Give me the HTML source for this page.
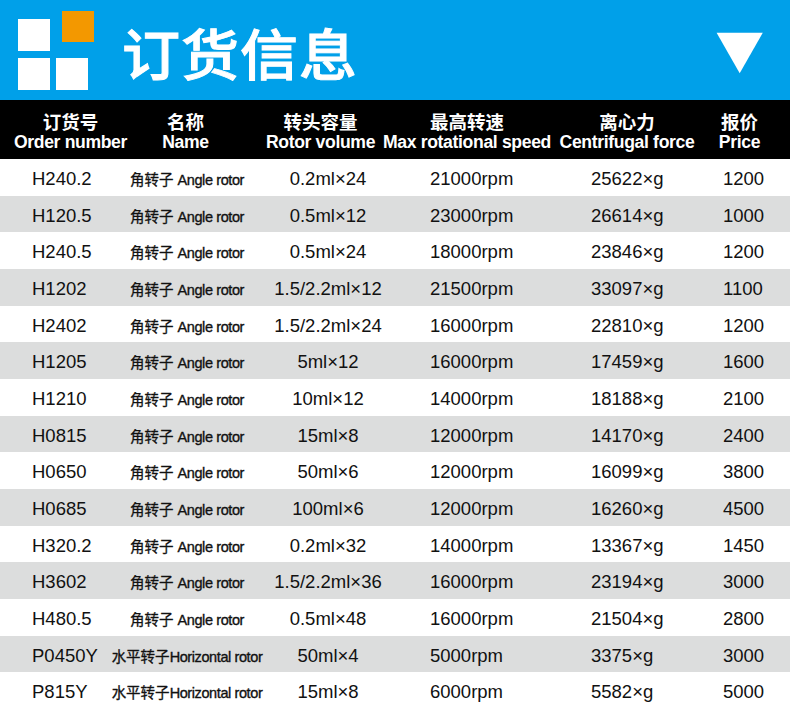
<!DOCTYPE html>
<html lang="zh-CN">
<head>
<meta charset="utf-8">
<title>订货信息</title>
<style>
html,body{margin:0;padding:0;}
body{width:790px;height:709px;position:relative;overflow:hidden;background:#fff;font-family:"Liberation Sans","Noto Sans CJK SC",sans-serif;}
.top{position:absolute;left:0;top:0;width:790px;height:100px;background:#00a0e9;}
.sq{position:absolute;background:#fff;}
.sq.o{background:#f39800;}
.title{position:absolute;left:122px;top:8.5px;font-family:"Noto Sans CJK SC",sans-serif;font-weight:500;-webkit-text-stroke:1px #fff;font-size:58px;line-height:84px;color:#fff;letter-spacing:1px;white-space:nowrap;transform:scaleY(0.945);transform-origin:0 42px;}
.tri{position:absolute;left:0;top:0;}
.head{position:absolute;left:0;top:100px;width:790px;height:59px;background:#000;color:#fff;font-weight:700;}
.hc{position:absolute;top:0;text-align:center;white-space:nowrap;}
.hc .zh{display:block;font-family:"Noto Sans CJK SC",sans-serif;font-size:18.5px;line-height:20px;height:20px;margin-top:11px;}
.hc .en{display:block;font-family:"Liberation Sans",sans-serif;font-size:17.6px;line-height:20px;letter-spacing:-0.35px;margin-top:1px;}
.row{position:absolute;left:0;width:790px;height:37px;color:#111;font-size:18.5px;background:#fff;}
.row.g{background:#dcdddd;}
.row>span{position:absolute;top:1px;line-height:37px;white-space:nowrap;}
.c1{left:32px;}
.c2{left:87px;width:200px;text-align:center;font-size:14.5px;top:3px !important;line-height:36px !important;}
.c2 .z{font-family:"Noto Sans CJK SC",sans-serif;font-weight:400;line-height:1px;-webkit-text-stroke:0.3px #111;}
.c2 .a{letter-spacing:-0.4px;-webkit-text-stroke:0.35px #111;}
.c3{left:248px;width:160px;text-align:center;}
.c4{left:430px;}
.c5{left:591px;}
.c6{left:723px;}
</style>
</head>
<body>
<div class="top">
  <div class="sq" style="left:18px;top:19px;width:32px;height:32px;"></div>
  <div class="sq o" style="left:62px;top:11px;width:32px;height:31px;"></div>
  <div class="sq" style="left:18px;top:58px;width:32px;height:32px;"></div>
  <div class="sq" style="left:56px;top:58px;width:32px;height:32px;"></div>
  <div class="title">订货信息</div>
  <svg class="tri" width="790" height="100" viewBox="0 0 790 100"><polygon points="716.6,32.8 762.8,32.8 739.7,73.2" fill="#fff"/></svg>
</div>
<div class="head">
  <div class="hc" style="left:0;width:141px;"><span class="zh">订货号</span><span class="en">Order number</span></div>
  <div class="hc" style="left:135px;width:101px;"><span class="zh">名称</span><span class="en">Name</span></div>
  <div class="hc" style="left:260px;width:121px;"><span class="zh">转头容量</span><span class="en">Rotor volume</span></div>
  <div class="hc" style="left:380px;width:174px;"><span class="zh">最高转速</span><span class="en">Max rotational speed</span></div>
  <div class="hc" style="left:555px;width:144px;"><span class="zh">离心力</span><span class="en">Centrifugal force</span></div>
  <div class="hc" style="left:710px;width:59px;"><span class="zh">报价</span><span class="en">Price</span></div>
</div>
<!--rows-->
<div class="row" style="top:159px;height:37px"><span class="c1">H240.2</span><span class="c2"><span class="z">角转子</span> <span class="a">Angle rotor</span></span><span class="c3">0.2ml×24</span><span class="c4">21000rpm</span><span class="c5">25622×g</span><span class="c6">1200</span></div>
<div class="row g" style="top:196px;height:36px"><span class="c1">H120.5</span><span class="c2"><span class="z">角转子</span> <span class="a">Angle rotor</span></span><span class="c3">0.5ml×12</span><span class="c4">23000rpm</span><span class="c5">26614×g</span><span class="c6">1000</span></div>
<div class="row" style="top:232px;height:37px"><span class="c1">H240.5</span><span class="c2"><span class="z">角转子</span> <span class="a">Angle rotor</span></span><span class="c3">0.5ml×24</span><span class="c4">18000rpm</span><span class="c5">23846×g</span><span class="c6">1200</span></div>
<div class="row g" style="top:269px;height:37px"><span class="c1">H1202</span><span class="c2"><span class="z">角转子</span> <span class="a">Angle rotor</span></span><span class="c3">1.5/2.2ml×12</span><span class="c4">21500rpm</span><span class="c5">33097×g</span><span class="c6">1100</span></div>
<div class="row" style="top:306px;height:36px"><span class="c1">H2402</span><span class="c2"><span class="z">角转子</span> <span class="a">Angle rotor</span></span><span class="c3">1.5/2.2ml×24</span><span class="c4">16000rpm</span><span class="c5">22810×g</span><span class="c6">1200</span></div>
<div class="row g" style="top:342px;height:37px"><span class="c1">H1205</span><span class="c2"><span class="z">角转子</span> <span class="a">Angle rotor</span></span><span class="c3">5ml×12</span><span class="c4">16000rpm</span><span class="c5">17459×g</span><span class="c6">1600</span></div>
<div class="row" style="top:379px;height:37px"><span class="c1">H1210</span><span class="c2"><span class="z">角转子</span> <span class="a">Angle rotor</span></span><span class="c3">10ml×12</span><span class="c4">14000rpm</span><span class="c5">18188×g</span><span class="c6">2100</span></div>
<div class="row g" style="top:416px;height:36px"><span class="c1">H0815</span><span class="c2"><span class="z">角转子</span> <span class="a">Angle rotor</span></span><span class="c3">15ml×8</span><span class="c4">12000rpm</span><span class="c5">14170×g</span><span class="c6">2400</span></div>
<div class="row" style="top:452px;height:37px"><span class="c1">H0650</span><span class="c2"><span class="z">角转子</span> <span class="a">Angle rotor</span></span><span class="c3">50ml×6</span><span class="c4">12000rpm</span><span class="c5">16099×g</span><span class="c6">3800</span></div>
<div class="row g" style="top:489px;height:37px"><span class="c1">H0685</span><span class="c2"><span class="z">角转子</span> <span class="a">Angle rotor</span></span><span class="c3">100ml×6</span><span class="c4">12000rpm</span><span class="c5">16260×g</span><span class="c6">4500</span></div>
<div class="row" style="top:526px;height:36px"><span class="c1">H320.2</span><span class="c2"><span class="z">角转子</span> <span class="a">Angle rotor</span></span><span class="c3">0.2ml×32</span><span class="c4">14000rpm</span><span class="c5">13367×g</span><span class="c6">1450</span></div>
<div class="row g" style="top:562px;height:37px"><span class="c1">H3602</span><span class="c2"><span class="z">角转子</span> <span class="a">Angle rotor</span></span><span class="c3">1.5/2.2ml×36</span><span class="c4">16000rpm</span><span class="c5">23194×g</span><span class="c6">3000</span></div>
<div class="row" style="top:599px;height:37px"><span class="c1">H480.5</span><span class="c2"><span class="z">角转子</span> <span class="a">Angle rotor</span></span><span class="c3">0.5ml×48</span><span class="c4">16000rpm</span><span class="c5">21504×g</span><span class="c6">2800</span></div>
<div class="row g" style="top:636px;height:36px"><span class="c1">P0450Y</span><span class="c2"><span class="z">水平转子</span><span class="a">Horizontal rotor</span></span><span class="c3">50ml×4</span><span class="c4">5000rpm</span><span class="c5">3375×g</span><span class="c6">3000</span></div>
<div class="row" style="top:672px;height:37px"><span class="c1">P815Y</span><span class="c2"><span class="z">水平转子</span><span class="a">Horizontal rotor</span></span><span class="c3">15ml×8</span><span class="c4">6000rpm</span><span class="c5">5582×g</span><span class="c6">5000</span></div>
<!--/rows-->
</body>
</html>
